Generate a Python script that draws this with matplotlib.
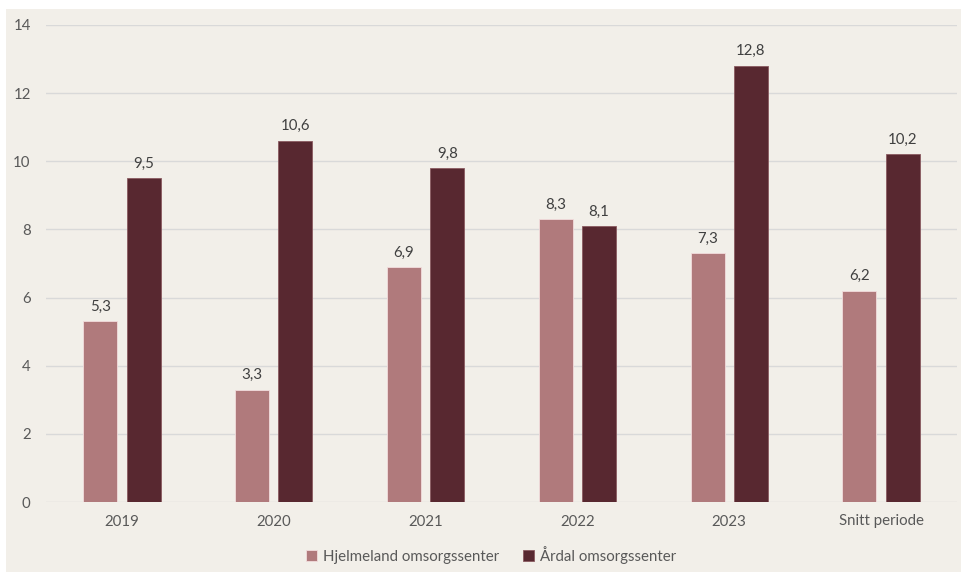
import matplotlib.pyplot as plt
from matplotlib.patches import Rectangle
import numpy as np

categories = ["2019", "2020", "2021", "2022", "2023", "Snitt periode"]
hjelmeland = [5.3, 3.3, 6.9, 8.3, 7.3, 6.2]
aardal = [9.5, 10.6, 9.8, 8.1, 12.8, 10.2]
series_names = ["Hjelmeland omsorgssenter", "Årdal omsorgssenter"]

bg = "#F2EFE9"
pink = "#B07A7C"
dark = "#582830"
text_col = "#595959"

plt.rcParams['font.family'] = ['Lato', 'DejaVu Sans']

fig = plt.figure(figsize=(9.61, 5.72), dpi=100, facecolor="white")
# beige chart area with a thin white margin top/left
fig.patches.append(Rectangle((6 / 961, 0), 1 - 6 / 961, 1 - 9 / 572,
                             transform=fig.transFigure, facecolor=bg,
                             edgecolor="none", zorder=-5))

ax = fig.add_axes([46 / 961, (572 - 502) / 572, (957 - 46) / 961, (502 - 25) / 572])
ax.patch.set_alpha(0)

x = np.arange(len(categories))
w = 0.224
off = 0.143
b1 = ax.bar(x - off, hjelmeland, w, color=pink, edgecolor="#F2DCDC", linewidth=0.6,
            label=series_names[0], zorder=3)
b2 = ax.bar(x + off, aardal, w, color=dark, edgecolor="#8A5A60", linewidth=0.6,
            label=series_names[1], zorder=3)

for bars, vals in ((b1, hjelmeland), (b2, aardal)):
    for r, v in zip(bars, vals):
        ax.text(r.get_x() + r.get_width() / 2, v + 0.22, f"{v:.1f}".replace(".", ","),
                ha="center", va="bottom", fontsize=10.8, color="#404040")

ax.set_xlim(-0.5, len(categories) - 0.5)
ax.set_ylim(0, 14)
ax.set_yticks(range(0, 15, 2))
ax.set_xticks(x)
ax.set_xticklabels(categories)
ax.tick_params(axis="both", length=0, labelsize=10.8, colors=text_col)
ax.tick_params(axis="y", pad=11)
ax.tick_params(axis="x", pad=9)
ax.yaxis.grid(True, color="#D9D9D9", linewidth=1, zorder=0)
ax.set_axisbelow(True)
for s in ax.spines.values():
    s.set_visible(False)

leg = fig.legend(handles=[b1, b2], loc="center", bbox_to_anchor=(0.511, (572 - 555) / 572),
                 ncol=2, frameon=False, fontsize=10.8, handlelength=0.7, handleheight=0.7,
                 handletextpad=0.4, columnspacing=1.6)
for t in leg.get_texts():
    t.set_color(text_col)

fig.savefig("out.png", dpi=100, facecolor="white")
